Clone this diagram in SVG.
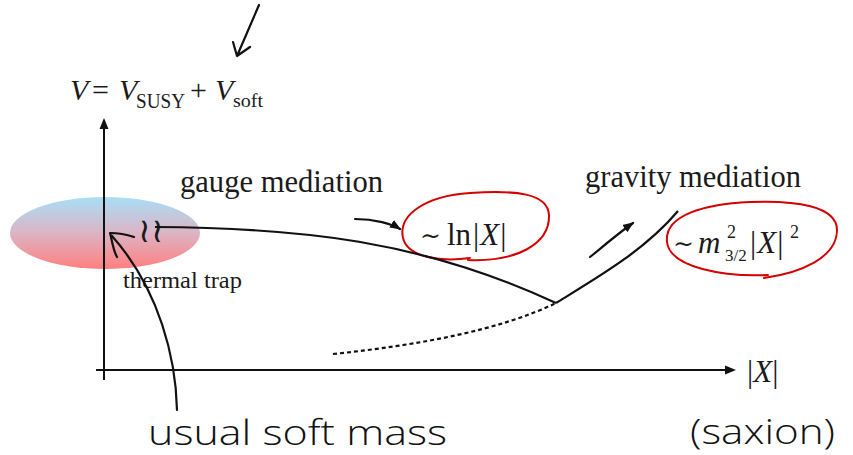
<svg xmlns="http://www.w3.org/2000/svg" width="853" height="455" viewBox="0 0 853 455">
<defs>
<linearGradient id="trapGrad" x1="0" y1="0" x2="0" y2="1">
<stop offset="0" stop-color="#a9def7"/>
<stop offset="0.5" stop-color="#dcb4c4"/>
<stop offset="1" stop-color="#ff7f80"/>
</linearGradient>
<marker id="triSmall" viewBox="0 0 10 10" refX="9" refY="5" markerWidth="11" markerHeight="11" markerUnits="userSpaceOnUse" orient="auto">
<path d="M0,1 L10,5 L0,9 z" fill="#111"/>
</marker>
</defs>
<style>
.serif{font-family:"Liberation Serif","DejaVu Serif",serif;fill:#1a1a1a}
.it{font-style:italic}
.ax{stroke:#111;stroke-width:2;fill:none}
.crv{stroke:#111;stroke-width:2.2;fill:none}
.hand{stroke:#111;stroke-width:2.2;fill:none;stroke-linecap:round;stroke-linejoin:round}
.red{stroke:#d40000;stroke-width:2;fill:none;stroke-linecap:round}
.hw{font-family:"Open Sans","Liberation Sans",sans-serif;font-weight:300;fill:#111}
</style>
<rect width="853" height="455" fill="#fff"/>

<g id="thermal-trap">
<ellipse cx="105" cy="233" rx="95" ry="36" fill="url(#trapGrad)"/>
<text class="serif" x="138" y="242" font-size="34">≀≀</text>
<text class="serif" x="123" y="288" font-size="23" textLength="119" lengthAdjust="spacingAndGlyphs">thermal trap</text>
</g>

<g id="axes">
<line class="ax" x1="104" y1="126" x2="104" y2="380"/>
<path d="M104,118 L99.5,129 L108.5,129 z" fill="#111"/>
<line class="ax" x1="96" y1="370" x2="727" y2="370"/>
<path d="M736,370 L725,365.5 L725,374.5 z" fill="#111"/>
<text class="serif" x="747" y="382" font-size="31">|<tspan class="it">X</tspan>|</text>
</g>

<g id="potential-label">
<text class="serif it" x="70" y="100" font-size="30">V</text>
<text class="serif" x="92" y="100" font-size="30">=</text>
<text class="serif it" x="119" y="100" font-size="30">V</text>
<text class="serif" x="136" y="108" font-size="20" textLength="49" lengthAdjust="spacingAndGlyphs">SUSY</text>
<text class="serif" x="190" y="100" font-size="30">+</text>
<text class="serif it" x="215" y="100" font-size="30">V</text>
<text class="serif" x="233" y="107" font-size="19" textLength="30" lengthAdjust="spacingAndGlyphs">soft</text>
</g>

<g id="gauge-mediation">
<text class="serif" x="180" y="192" font-size="32" textLength="203" lengthAdjust="spacingAndGlyphs">gauge mediation</text>
</g>

<g id="gravity-mediation">
<text class="serif" x="585" y="187" font-size="32" textLength="216" lengthAdjust="spacingAndGlyphs">gravity mediation</text>
</g>

<g id="ln-label">
<text class="serif" x="420" y="244" font-size="25">∼</text>
<text class="serif" x="447" y="245" font-size="31">ln</text>
<text class="serif" x="473" y="245" font-size="31">|<tspan class="it" dx="1">X</tspan><tspan dx="1">|</tspan></text>
<path class="red" d="M470,258 C442,262 408,258 403,238 C398,215 425,196 470,193 C515,190 548,193 549,215 C550,245 515,262 468,260"/>
</g>

<g id="m32-label">
<text class="serif" x="673" y="252" font-size="25">∼</text>
<text class="serif it" x="698" y="253" font-size="31">m</text>
<text class="serif" x="727" y="238" font-size="18">2</text>
<text class="serif" x="725" y="261" font-size="17">3/2</text>
<text class="serif" x="750" y="253" font-size="31">|<tspan class="it" dx="1">X</tspan><tspan dx="1">|</tspan></text>
<text class="serif" x="790" y="238" font-size="18">2</text>
<path class="red" d="M768,275 C725,277 670,268 667,242 C664,215 705,204 750,202 C795,200 837,206 837,230 C837,258 800,273 764,278"/>
</g>

<g id="usual-soft-mass">
<text class="hw" x="148" y="445" font-size="34" textLength="299" lengthAdjust="spacingAndGlyphs">usual soft mass</text>
</g>

<g id="saxion">
<text class="hw" x="690" y="444" font-size="34" textLength="145" lengthAdjust="spacingAndGlyphs">(saxion)</text>
</g>

<g id="connectors">
<path class="crv" d="M155,227 C300,228 420,240 556,303"/>
<path class="crv" d="M556,303 C600,276 645,250 678,211"/>
<path class="crv" d="M333,354 C420,345 500,330 556,303" stroke-dasharray="4,3" stroke-width="2.6"/>
<path class="hand" d="M355,219 C375,219 392,224 400,229" marker-end="url(#triSmall)"/>
<path class="hand" d="M590,257 C606,244 620,232 633,223" marker-end="url(#triSmall)"/>
<path class="hand" d="M259,5 L237,56 M233,42 L237,56 L250,47"/>
<path class="hand" d="M177,410 C176,360 160,290 112,236 M134,237 C125,234 116,233 110,233 C112,240 113,250 117,257"/>
</g>
</svg>
